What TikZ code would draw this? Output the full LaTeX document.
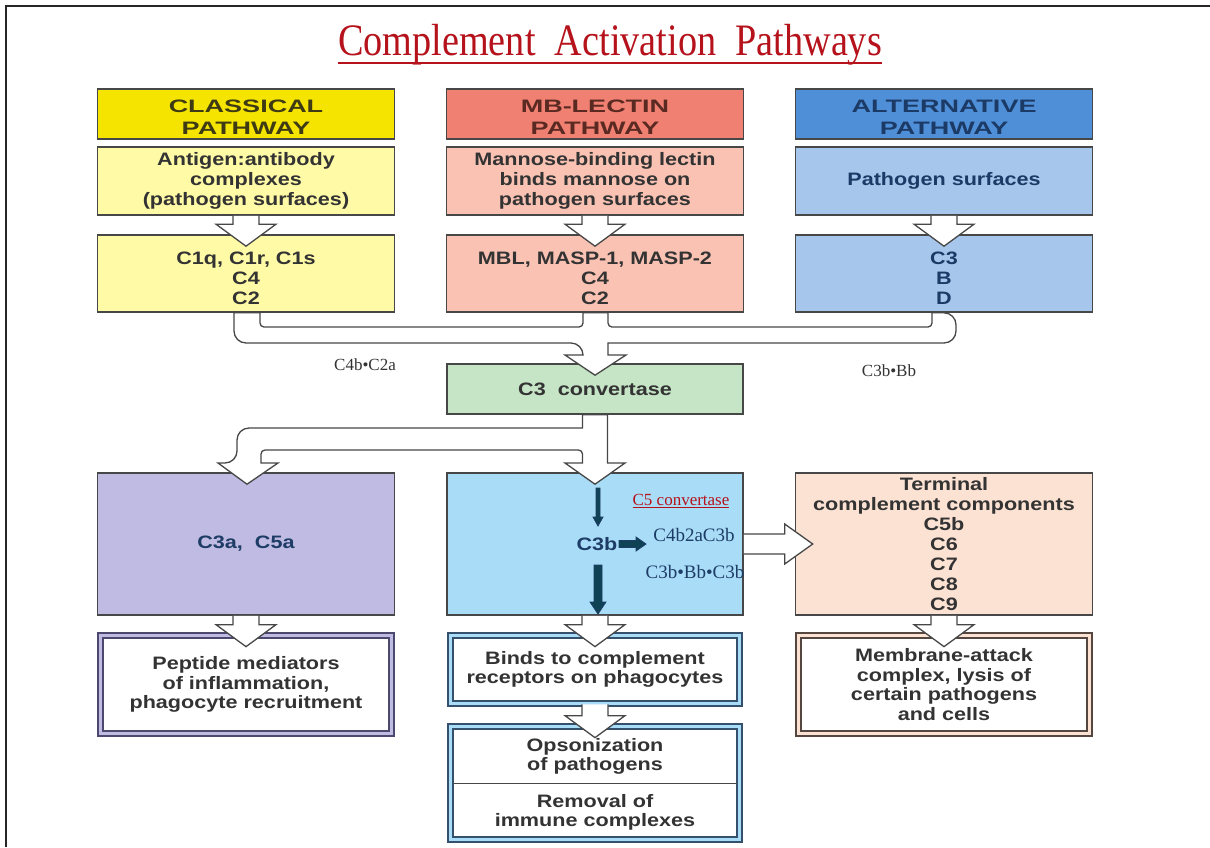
\documentclass[tikz,border=0pt]{standalone}
\usepackage{fontspec}
\setmainfont{Liberation Serif}
\newfontfamily\boxfont[FakeStretch=1.2]{Liberation Sans}
\newfontfamily\headfont[FakeStretch=1.5]{Liberation Sans}
\newfontfamily\titlefont[FakeStretch=0.85]{Liberation Serif}
\usepackage{tikz}
\usetikzlibrary{calc,positioning}

\definecolor{clhead}{HTML}{F4E400}
\definecolor{clbox}{HTML}{FFFAA6}
\definecolor{mbhead}{HTML}{EF8072}
\definecolor{mbbox}{HTML}{F9C2B3}
\definecolor{althead}{HTML}{4F8FD7}
\definecolor{altbox}{HTML}{A7C6EC}
\definecolor{convbox}{HTML}{C6E4C6}
\definecolor{fragbox}{HTML}{C0BBE3}
\definecolor{opsbox}{HTML}{A9DDF7}
\definecolor{termbox}{HTML}{FBE2D3}
\definecolor{boxline}{HTML}{474747}
\definecolor{ink}{HTML}{333333}
\definecolor{cltext}{HTML}{3E3A14}
\definecolor{mbtext}{HTML}{5A2A22}
\definecolor{alttext}{HTML}{1C3A66}
\definecolor{navy}{HTML}{1E3D66}
\definecolor{titlered}{HTML}{B5121B}
\definecolor{pepline}{HTML}{4B4A6E}
\definecolor{recline}{HTML}{34506C}
\definecolor{macline}{HTML}{55473F}

\tikzset{
  box/.style={draw=boxline, line width=1.6pt, minimum width=297, minimum height=#1,
    align=center, inner sep=0pt, text=ink,
    font=\boxfont\bfseries\fontsize{18}{20}\selectfont},
  headbox/.style={box=50, text height=41, font=\headfont\bfseries\fontsize{18}{22}\selectfont},
  lowtext/.style={text height=62},
  dbox/.style={line width=1.7pt, double distance=3.5pt, fill=white, minimum width=291,
    minimum height=#1, align=center, inner sep=0pt, text=ink,
    font=\boxfont\bfseries\fontsize{18}{19.5}\selectfont},
  hollow/.style={draw=boxline, fill=white, line width=1.3pt, line join=miter},
  darkarrow/.style={draw=navy, fill=navy!75!cyan!60!black, line width=0.8pt},
  serlbl/.style={inner sep=0pt, text=navy, font=\fontsize{19}{20}\selectfont},
  sidelbl/.style={inner sep=0pt, text=black!80, font=\fontsize{17}{18}\selectfont}
}

% hollow arrow from the bottom of one box into the top of the next
\newcommand{\hollowdown}[2]{%
  \coordinate (hs) at (#2.north |- #1.south);
  \coordinate (ht) at (#2.north);
  \draw[hollow] ($(hs)+(-13,0)$) -- ($(ht)+(-13,-10)$) -- ($(ht)+(-30,-10)$)
    -- ($(ht)+(0,12)$) -- ($(ht)+(30,-10)$) -- ($(ht)+(13,-10)$) -- ($(hs)+(13,0)$);}

\begin{document}
\begin{tikzpicture}[x=1pt,y=-1pt]
\useasboundingbox (0,0) rectangle (1210,847);
\draw[line width=1.6pt, black!85] (6,847) -- (6,6) -- (1210,6);

% title
\node[inner sep=0pt, anchor=base, text=titlered, font=\titlefont\fontsize{45}{48}\selectfont]
  (ttl) at (610,55) {Complement~~Activation~~Pathways};
\draw[titlered, line width=1.4pt] ($(ttl.base west)+(0,8)$) -- ($(ttl.base east)+(0,8)$);

% three pathways
\node[headbox, fill=clhead, text=cltext] (cls1) at (246,114) {CLASSICAL\\PATHWAY};
\node[box=68, fill=clbox] (cls2) at (246,181) {Antigen:antibody\\complexes\\(pathogen surfaces)};
\node[box=77, fill=clbox, lowtext] (cls3) at (246,273.5) {C1q, C1r, C1s\\C4\\C2};

\node[headbox, fill=mbhead, text=mbtext] (mbl1) at (595,114) {MB-LECTIN\\PATHWAY};
\node[box=68, fill=mbbox] (mbl2) at (595,181) {Mannose-binding lectin\\binds mannose on\\pathogen surfaces};
\node[box=77, fill=mbbox, lowtext] (mbl3) at (595,273.5) {MBL, MASP-1, MASP-2\\C4\\C2};

\node[headbox, fill=althead, text=alttext] (alt1) at (944,114) {ALTERNATIVE\\PATHWAY};
\node[box=68, fill=altbox, text=alttext] (alt2) at (944,181) {Pathogen surfaces};
\node[box=77, fill=altbox, text=alttext, lowtext] (alt3) at (944,273.5) {C3\\B\\D};

% convertase
\node[box=50, fill=convbox, minimum width=296] (conv) at (595,389) {C3~~convertase};
\node[sidelbl] (lcl) at (365,365) {C4b•C2a};
\node[sidelbl] (lalt) at (889,371) {C3b•Bb};

% lower row
\node[box=142, fill=fragbox, text=navy] (frag) at (246,544) {C3a,~~C5a};
\node[box=142, fill=opsbox, minimum width=296] (ops) at (595,544) {};
\node[box=142, fill=termbox] (term) at (944,544)
  {Terminal\\complement components\\C5b\\C6\\C7\\C8\\C9};

\node[dbox=98, draw=pepline, double=fragbox] (pept) at (246,684.5)
  {Peptide mediators\\of inflammation,\\phagocyte recruitment};
\node[dbox=68, draw=recline, double=opsbox, minimum width=289] (recep) at (595,669.5)
  {Binds to complement\\receptors on phagocytes};
\node[dbox=113, draw=recline, double=opsbox, minimum width=289] (opso) at (595,783) {};
\coordinate (split) at (595,783);
\draw[boxline, line width=1pt] ($(opso.west |- split)+(3,0)$) -- ($(opso.east |- split)+(-3,0)$);
\node[inner sep=0pt, text=ink, align=center, font=\boxfont\bfseries\fontsize{18}{19}\selectfont]
  (opst) at (595,756) {Opsonization\\of pathogens};
\node[inner sep=0pt, text=ink, align=center, font=\boxfont\bfseries\fontsize{18}{19}\selectfont]
  (remt) at (595,812) {Removal of\\immune complexes};
\node[dbox=98, draw=macline, double=termbox] (mac) at (944,684.5)
  {Membrane-attack\\complex, lysis of\\certain pathogens\\and cells};

% hollow arrows
\foreach \a/\b in {cls2/cls3, mbl2/mbl3, alt2/alt3, frag/pept, ops/recep, recep/opso, term/mac}
  {\hollowdown{\a}{\b}}

% merge into the convertase
\draw[hollow] ($(cls3.south)+(-12,0)$) [rounded corners=12] |- (583,343) [sharp corners]
  -- (583,355) -- (565,355) -- ($(conv.north)+(0,12)$) -- (626,355) -- (608,355)
  -- (608,343) [rounded corners=12] -| ($(alt3.south)+(12,0)$) [sharp corners]
  -- ($(alt3.south)+(-12,0)$) [rounded corners=4] |- (608,327) [sharp corners]
  -- ($(mbl3.south)+(13,0)$) -- ($(mbl3.south)+(-12,0)$) [rounded corners=4]
  |- (260,327) [sharp corners] -- ($(cls3.south)+(14,0)$) -- cycle;

% split below the convertase
\draw[hollow] ($(conv.south)+(-12.5,0)$) -- (582.5,428) [rounded corners=12] -| (237,463)
  [sharp corners] -- (218,463) -- ($(frag.north)+(1,12)$) -- (278,463) -- (261,463)
  [rounded corners=4] |- (582.5,450) [sharp corners] -- (582.5,463) -- (565,463)
  -- ($(ops.north)+(0,12)$) -- (625,463) -- (607.5,463) -- ($(conv.south)+(12.5,0)$) -- cycle;

% to the terminal components
\draw[hollow] ($(ops.east)+(0,-10)$) -- ($(term.west)+(-10,-10)$) -- ($(term.west)+(-10,-20)$)
  -- ($(term.west)+(18,0)$) -- ($(term.west)+(-10,20)$) -- ($(term.west)+(-10,10)$)
  -- ($(ops.east)+(0,10)$);

% inside the C3b box
\node[inner sep=0pt, text=navy, font=\boxfont\bfseries\fontsize{18}{20}\selectfont] (c3b) at (597,544) {C3b};
\node[inner sep=0pt, text=titlered, font=\fontsize{17}{18}\selectfont] (c5c) at (681,501) {\underline{C5 convertase}};
\node[serlbl] (c42) at (694,535) {C4b2aC3b};
\node[serlbl] (c3bb) at (695,572) {C3b•Bb•C3b};
\filldraw[darkarrow] (596,488) -- (596,517) -- (593,517) -- (598,526) -- (603,517) -- (600,517) -- (600,488) -- cycle;
\filldraw[darkarrow] (594,565) -- (594,602) -- (590,602) -- (598,614) -- (606,602) -- (602,602) -- (602,565) -- cycle;
\filldraw[darkarrow] (619,540.5) -- (636,540.5) -- (636,537) -- (646,544) -- (636,551) -- (636,547.5) -- (619,547.5) -- cycle;
\end{tikzpicture}
\end{document}
